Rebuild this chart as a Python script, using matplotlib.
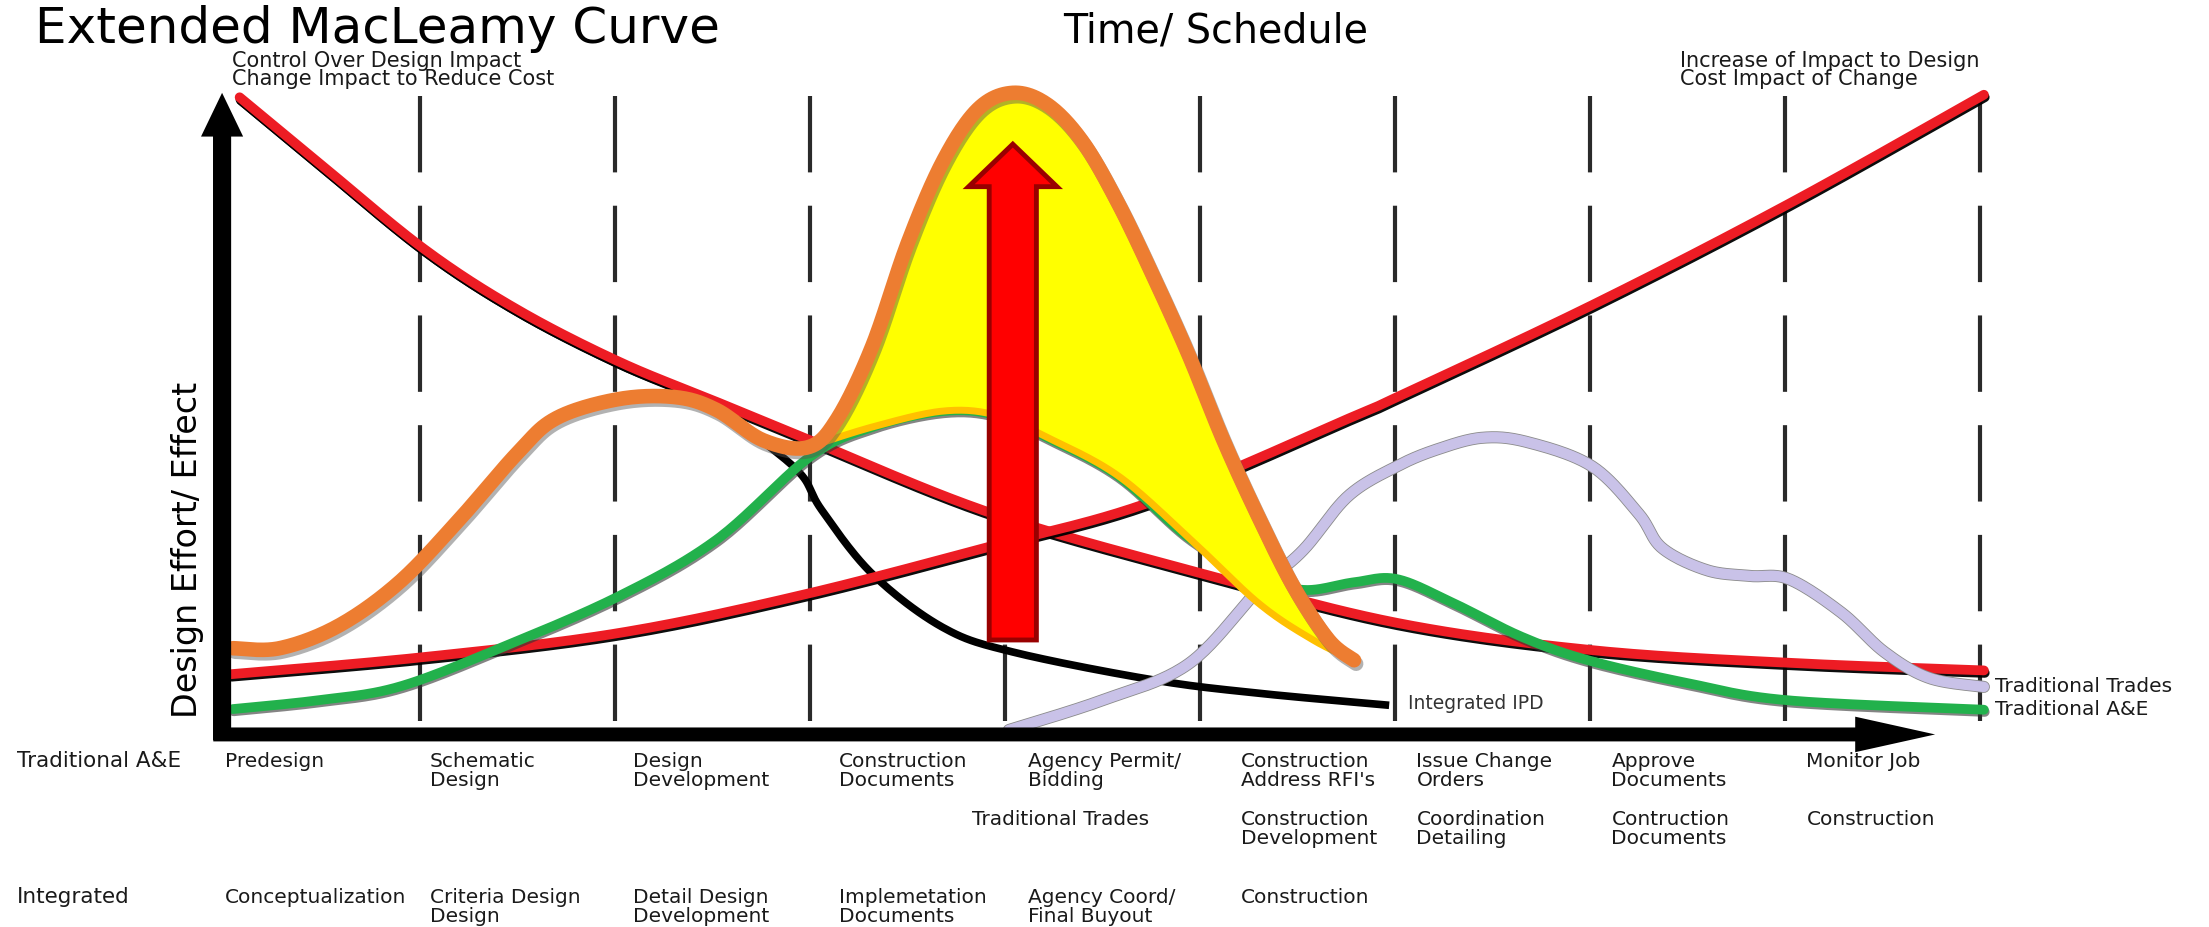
import numpy as np
import matplotlib.pyplot as plt
import matplotlib.patheffects as pe
import matplotlib.transforms as mtransforms
from matplotlib.patches import FancyArrow, Polygon

plt.rcParams['font.family'] = ['DejaVu Sans']
plt.rcParams['lines.scale_dashes'] = False

# ---- data (x = project phase, y = design effort / effect) ----
phase_lines = [1, 2, 3, 4, 5, 6, 7, 8, 9]

control_x = [0.075, 0.48, 1.02, 1.50, 2.02, 2.51, 3.00, 3.93, 5.02, 6.01, 7.01, 8.02, 9.02]
control_y = [99.8, 89.5, 75.9, 66.3, 58.1, 51.9, 45.7, 34.2, 24.6, 16.9, 12.6, 10.6, 9.4]

cost_x = [0.03, 1.02, 2.02, 2.96, 3.93, 4.76, 5.79, 6.01, 7.01, 8.02, 9.02]
cost_y = [8.8, 11.5, 15.3, 21.3, 29.0, 36.1, 49.5, 52.5, 67.0, 83.0, 100.2]

ipd_x = [0.075, 0.48, 1.02, 1.50, 2.02, 2.51, 2.78, 2.96, 3.06, 3.32, 3.68, 4.04, 4.76, 5.30, 5.97]
ipd_y = [99.3, 89.0, 75.4, 65.8, 57.6, 51.2, 45.0, 40.1, 34.7, 24.6, 16.2, 12.3, 7.9, 5.8, 3.9]

ae_x = [0.04, 0.48, 0.89, 1.41, 2.02, 2.52, 3.00, 3.32, 3.68, 3.95, 4.22, 4.58, 4.94,
        5.27, 5.53, 5.79, 6.01, 6.30, 6.65, 6.99, 7.50, 8.01, 9.02]
ae_y = [3.3, 4.7, 6.8, 12.9, 21.1, 30.0, 43.1, 47.8, 50.3, 49.7, 46.1, 40.1, 30.4,
        24.4, 22.1, 23.3, 23.8, 20.0, 14.7, 11.0, 7.4, 4.7, 3.2]

trades_x = [4.02, 4.50, 4.94, 5.30, 5.53, 5.76, 6.01, 6.22, 6.45, 6.68, 7.01, 7.25, 7.37,
            7.60, 7.82, 8.02, 8.29, 8.51, 8.74, 9.02]
trades_y = [0.0, 4.7, 10.4, 22.1, 28.4, 36.9, 41.6, 44.3, 46.1, 45.4, 41.6, 34.1, 28.7,
            25.2, 24.3, 23.8, 18.5, 12.3, 8.2, 6.8]

extended_x = [0.04, 0.28, 0.58, 0.89, 1.19, 1.50, 1.70, 2.02, 2.31, 2.52, 2.76, 2.99, 3.14,
              3.32, 3.50, 3.68, 3.86, 4.04, 4.22, 4.40, 4.58, 4.76, 4.94, 5.12, 5.30, 5.48,
              5.66, 5.79]
extended_y = [12.9, 12.9, 16.4, 23.2, 32.8, 43.7, 49.2, 52.2, 52.5, 50.5, 45.7, 44.6, 49.1,
              60.6, 76.7, 89.6, 97.9, 100.5, 98.6, 92.7, 83.1, 71.6, 59.3, 45.7, 33.6, 22.6,
              14.2, 11.0]

fill_base_x = [2.99, 3.32, 3.68, 3.95, 4.22, 4.58, 4.94, 5.30, 5.58, 5.79]
fill_base_y = [44.6, 47.8, 50.3, 49.7, 46.1, 40.1, 30.4, 20.0, 14.2, 11.0]

impact_x, impact_bottom, impact_top = 4.04, 14.2, 92.4

trad_ae_stages = ["Predesign", "Schematic\nDesign", "Design\nDevelopment", "Construction\nDocuments",
                  "Agency Permit/\nBidding", "Construction\nAddress RFI's", "Issue Change\nOrders",
                  "Approve\nDocuments", "Monitor Job"]
trades_stages = ["", "", "", "", "", "Construction\nDevelopment", "Coordination\nDetailing",
                 "Contruction\nDocuments", "Construction"]
integrated_stages = ["Conceptualization", "Criteria Design\nDesign", "Detail Design\nDevelopment",
                     "Implemetation\nDocuments", "Agency Coord/\nFinal Buyout", "Construction",
                     "", "", ""]
stage_label_x = [0.0, 1.05, 2.09, 3.15, 4.12, 5.21, 6.11, 7.11, 8.11]


def smooth(xs, ys, n=24):
    # catmull-rom through the read points, just for drawing
    pts = np.column_stack([xs, ys]).astype(float)
    p = np.vstack([pts[0], pts, pts[-1]])
    t = np.linspace(0, 1, n, endpoint=False)[:, None]
    out = []
    for i in range(1, len(p) - 2):
        p0, p1, p2, p3 = p[i - 1], p[i], p[i + 1], p[i + 2]
        out.append(0.5 * (2 * p1 + (-p0 + p2) * t + (2 * p0 - 5 * p1 + 4 * p2 - p3) * t ** 2
                          + (-p0 + 3 * p1 - 3 * p2 + p3) * t ** 3))
    out.append(pts[-1:])
    s = np.vstack(out)
    return s[:, 0], s[:, 1]


W, H = 2209, 927
fig = plt.figure(figsize=(W / 100, H / 100), dpi=100)
ax = fig.add_axes([225 / W, (H - 730) / H, 1755 / W, 634 / H])
ax.set_xlim(0, 9)
ax.set_ylim(0, 100)
ax.axis('off')


def shadow(color, off, alpha):
    return [pe.SimpleLineShadow(offset=off, shadow_color=color, alpha=alpha), pe.Normal()]


# dashed phase separators
ax.vlines(phase_lines, 100, 0, colors='#2a2a2a', linewidth=3,
          linestyles=[(0, (55, 24))], zorder=1, clip_on=False)

red = '#ED1C24'
x, y = smooth(ipd_x, ipd_y)
ax.plot(x, y, color='black', lw=5.5, solid_capstyle='butt', zorder=2.5, clip_on=False)
x, y = smooth(control_x, control_y)
ax.plot(x, y, color=red, lw=7, solid_capstyle='round', zorder=3, clip_on=False,
        path_effects=shadow('black', (0.6, -1.8), 0.95))
x, y = smooth(cost_x, cost_y)
ax.plot(x, y, color=red, lw=7, solid_capstyle='round', zorder=3, clip_on=False,
        path_effects=shadow('black', (0.6, -1.8), 0.95))
x, y = smooth(ae_x, ae_y)
ax.plot(x, y, color='#22B14C', lw=7, solid_capstyle='round', zorder=3.5, clip_on=False,
        path_effects=shadow('#333333', (0.6, -1.6), 0.6))
x, y = smooth(trades_x, trades_y)
ax.plot(x, y, color='#C9C2E8', lw=7.5, solid_capstyle='round', zorder=4, clip_on=False,
        path_effects=[pe.Stroke(linewidth=8.7, foreground='#8a8a8a'), pe.Normal()])

# yellow area between the extended curve and the traditional one
ox, oy = smooth(extended_x, extended_y)
keep = ox >= fill_base_x[0]
bx, by = smooth(fill_base_x, fill_base_y)
poly = np.vstack([np.column_stack([ox[keep], oy[keep]]), np.column_stack([bx, by])[::-1]])
ax.add_patch(Polygon(poly, closed=True, facecolor='#FFFF00', edgecolor='none', zorder=5,
                     clip_on=False))
ax.plot(bx, by, color='#FFC000', lw=5, solid_capstyle='round', zorder=5.1, clip_on=False)
ax.plot(ox, oy, color='#ED7D31', lw=10.5, solid_capstyle='round', zorder=6, clip_on=False,
        path_effects=shadow('#555555', (1.5, -2.5), 0.45))

# impact arrow
ax.add_patch(FancyArrow(impact_x, impact_bottom, 0, impact_top - impact_bottom, width=0.242,
                        head_width=0.453, head_length=6.7, length_includes_head=True,
                        facecolor='#FF0000', edgecolor='#990000', linewidth=3.5, zorder=7,
                        clip_on=False))

# axes arrows
ax.add_patch(FancyArrow(-0.015, -1.6, 0, 102.1, width=0.093, head_width=0.216, head_length=6.9,
                        length_includes_head=True, color='black', lw=0, zorder=8, clip_on=False))
ax.add_patch(FancyArrow(-0.06, -0.7, 8.83, 0, width=2.2, head_width=5.6, head_length=0.41,
                        length_includes_head=True, color='black', lw=0, zorder=8, clip_on=False))

# ---- text ----
txt = '#1a1a1a'


def put(px, py, s, **kw):
    fig.text(px / W, 1 - py / H, s, va='baseline', **kw)


put(35, 43, "Extended MacLeamy Curve", fontsize=36, color='black')
put(1063, 43, "Time/ Schedule", fontsize=28.5, color='black')
put(232, 67, "Control Over Design Impact", fontsize=15, color=txt)
put(232, 85, "Change Impact to Reduce Cost", fontsize=15, color=txt)
put(1680, 67, "Increase of Impact to Design", fontsize=15, color=txt)
put(1680, 85, "Cost Impact of Change", fontsize=15, color=txt)
fig.text(187 / W, 1 - 550 / H, "Design Effort/ Effect", rotation=90, ha='center', va='center',
         fontsize=24, color='black')

put(1408, 709, "Integrated IPD", fontsize=13.5, color='#333333')
put(1995, 692, "Traditional Trades", fontsize=14.5, color=txt)
put(1995, 715, "Traditional A&E", fontsize=14.5, color=txt)

blend = mtransforms.blended_transform_factory(ax.transData, fig.transFigure)
rows = [(767, trad_ae_stages), (825, trades_stages), (903, integrated_stages)]
for base, labels in rows:
    for lx, lab in zip(stage_label_x, labels):
        for k, line in enumerate(lab.split('\n')):
            if line:
                fig.text(lx, 1 - (base + 19 * k) / H, line, transform=blend, va='baseline',
                         fontsize=14.5, color=txt)

put(17, 767, "Traditional A&E", fontsize=15.5, color=txt)
put(972, 825, "Traditional Trades", fontsize=14.5, color=txt)
put(17, 903, "Integrated", fontsize=15.5, color=txt)

fig.savefig('out.png', dpi=100, facecolor='white')
